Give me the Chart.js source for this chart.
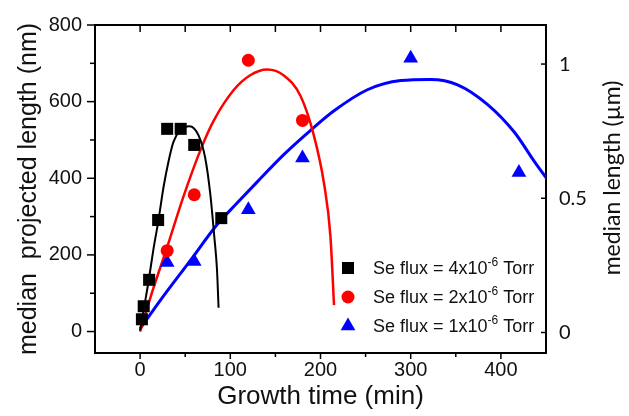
<!DOCTYPE html>
<html>
<head>
<meta charset="utf-8">
<script src="https://cdn.jsdelivr.net/npm/chart.js@4"></script>
<style>
  html, body { margin: 0; padding: 0; background: #fff; }
</style>
</head>
<body>
<canvas id="chart" width="629" height="416"></canvas>
<script>
    // measured points (min, nm)
    const time4 = [2, 4, 10, 20, 30, 45, 60, 90];
    const len4 = [32, 66, 135, 291, 529, 529, 487, 296];
    const time2 = [30, 60, 120, 180];
    const len2 = [211, 357, 708, 551];
    const time1 = [30, 60, 120, 180, 300, 420];
    const len1 = [180, 183, 318, 453, 713, 415];

    // fitted curves
    const fit4X = [0, 5.6, 9.3, 14.8, 20.4, 25.9, 31.5, 37, 44.4, 54.8, 64.8, 72.2, 77.8, 82.2, 85.2, 87];
    const fit4Y = [3, 79, 130, 215, 291, 376, 444, 495, 525, 536, 512, 453, 359, 249, 164, 62];
    const fit2X = [0, 15, 30, 47, 68, 81.5, 104, 122, 141, 159, 178, 192.6, 204, 211, 215];
    const fit2Y = [0, 115, 220, 345, 480, 550, 631, 669, 684, 669, 614, 512, 385, 249, 69];
    const fit1X = [0, 22, 55.6, 85, 107, 129.6, 159, 189, 215, 252, 289, 322, 352, 385, 415, 437, 452];
    const fit1Y = [7, 80, 185, 278, 334, 390, 461, 525, 576, 631, 655, 658, 644, 593, 520, 444, 395];

    const fluxValues = ["4x10", "2x10", "1x10"];
    const xTicks = [0, 100, 200, 300, 400];
    const xMinor = [50, 150, 250, 350];
    const xTopTicks = [0, 50, 100, 150, 200, 250, 300, 350, 400];
    const yTicks = [0, 200, 400, 600, 800];
    const yMinor = [100, 300, 500, 700];
    const y2Ticks = [0, 0.5, 1];
    const rightTitle = "median length (\u00b5m)";

    const pts = (xs, ys) => xs.map((x, i) => ({ x: x, y: ys[i] }));

    // ticks drawn by hand: some point inward, some outward, with minor ones
    const frameTicks = {
      id: "frameTicks",
      afterDraw(chart) {
        const { ctx, chartArea: a, scales } = chart;
        ctx.save();
        ctx.strokeStyle = "#000";
        ctx.lineWidth = 2;
        ctx.beginPath();
        ctx.moveTo(a.left - 1, a.top);
        ctx.lineTo(a.right + 1, a.top);
        ctx.stroke();
        ctx.lineWidth = 1.5;
        const tick = (x1, y1, x2, y2) => {
          ctx.beginPath();
          ctx.moveTo(x1, y1);
          ctx.lineTo(x2, y2);
          ctx.stroke();
        };
        xTicks.forEach((v) => {
          const x = scales.x.getPixelForValue(v);
          tick(x, a.bottom, x, a.bottom + 6);
        });
        xMinor.forEach((v) => {
          const x = scales.x.getPixelForValue(v);
          tick(x, a.bottom, x, a.bottom + 4);
        });
        xTopTicks.forEach((v) => {
          const x = scales.x.getPixelForValue(v);
          tick(x, a.top, x, a.top + 7);
        });
        yTicks.forEach((v) => {
          const y = scales.y.getPixelForValue(v);
          tick(a.left - 8, y, a.left, y);
        });
        yMinor.forEach((v) => {
          const y = scales.y.getPixelForValue(v);
          tick(a.left - 5, y, a.left, y);
        });
        y2Ticks.forEach((v) => {
          const y = scales.y2.getPixelForValue(v);
          tick(a.right - 5, y, a.right, y);
        });
        ctx.restore();
      },
    };

    // right title (reads bottom to top) and the legend inside the plot
    const sideText = {
      id: "sideText",
      afterDraw(chart) {
        const { ctx, chartArea: a } = chart;
        ctx.save();
        ctx.fillStyle = "#111";
        ctx.font = "23px Lato";
        ctx.textAlign = "center";
        ctx.textBaseline = "alphabetic";
        ctx.translate(a.right + 74, (a.top + a.bottom) / 2 - 11);
        ctx.rotate(-Math.PI / 2);
        ctx.fillText(rightTitle, 0, 0);
        ctx.restore();

        ctx.save();
        ctx.textBaseline = "alphabetic";
        ctx.textAlign = "left";
        fluxValues.forEach((f, i) => {
          const ds = chart.data.datasets[i];
          const cy = a.bottom - 85 + i * 29;
          ctx.fillStyle = ds.backgroundColor;
          Chart.helpers.drawPoint(ctx, { pointStyle: ds.pointStyle, radius: ds.pointRadius, rotation: 0, borderWidth: 0 }, 348, cy);
          ctx.fillStyle = "#111";
          ctx.font = '18px "Liberation Sans"';
          const base = "Se flux = " + f;
          let x = 373;
          ctx.fillText(base, x, cy + 6);
          x += ctx.measureText(base).width;
          ctx.font = '12px "Liberation Sans"';
          ctx.fillText("-6", x, cy - 2);
          x += ctx.measureText("-6").width;
          ctx.font = '18px "Liberation Sans"';
          ctx.fillText(" Torr", x, cy + 6);
        });
        ctx.restore();
      },
    };

    const tickFont = { family: "Liberation Sans", size: 20 };

    new Chart(document.getElementById("chart"), {
      type: "scatter",
      data: {
        datasets: [
          { label: "Se flux = 4x10-6 Torr", data: pts(time4, len4), pointStyle: "rect", pointRadius: 8.5, backgroundColor: "#000", borderWidth: 0, order: 0 },
          { label: "Se flux = 2x10-6 Torr", data: pts(time2, len2), pointStyle: "circle", pointRadius: 6.5, backgroundColor: "#ff0000", borderWidth: 0, order: 0 },
          { label: "Se flux = 1x10-6 Torr", data: pts(time1, len1), pointStyle: "triangle", pointRadius: 8.5, backgroundColor: "#0000ff", borderWidth: 0, order: 0 },
          { data: pts(fit4X, fit4Y), showLine: true, pointRadius: 0, borderColor: "#000", borderWidth: 2, cubicInterpolationMode: "monotone", order: 1 },
          { data: pts(fit2X, fit2Y), showLine: true, pointRadius: 0, borderColor: "#ff0000", borderWidth: 2.5, cubicInterpolationMode: "monotone", order: 1 },
          { data: pts(fit1X, fit1Y), showLine: true, pointRadius: 0, borderColor: "#0000ff", borderWidth: 3, cubicInterpolationMode: "monotone", order: 1 },
        ],
      },
      options: {
        responsive: false,
        animation: false,
        layout: { padding: { top: 17 } },
        plugins: { legend: { display: false }, tooltip: { enabled: false } },
        scales: {
          x: {
            type: "linear",
            min: -50,
            max: 450,
            afterBuildTicks: (s) => { s.ticks = xTicks.map((v) => ({ value: v })); },
            afterFit: (s) => { s.height = 63; },
            grid: { drawOnChartArea: false, drawTicks: false },
            border: { color: "#000", width: 2 },
            ticks: { font: tickFont, color: "#111", padding: 5, autoSkip: false, maxRotation: 0 },
            title: { display: true, text: "Growth time (min)", color: "#111", font: { family: "Liberation Sans", size: 26 }, padding: { top: 0, bottom: 4 } },
          },
          y: {
            type: "linear",
            position: "left",
            min: -56,
            max: 800,
            afterBuildTicks: (s) => { s.ticks = yTicks.map((v) => ({ value: v })); },
            afterFit: (s) => { s.width = 95; },
            grid: { drawOnChartArea: false, drawTicks: false },
            border: { color: "#000", width: 2 },
            ticks: { font: tickFont, color: "#111", padding: 13, autoSkip: false },
            title: { display: true, text: "median  projected length (nm)", color: "#111", font: { family: "Liberation Sans", size: 25 }, padding: { top: 14, bottom: 0 } },
          },
          y2: {
            type: "linear",
            position: "right",
            min: -0.0764,
            max: 1.1455,
            afterBuildTicks: (s) => { s.ticks = y2Ticks.map((v) => ({ value: v })); },
            afterFit: (s) => { s.width = 83; },
            grid: { drawOnChartArea: false, drawTicks: false },
            border: { color: "#000", width: 2 },
            ticks: { font: { family: "Lato", size: 20 }, color: "#111", padding: 13, autoSkip: false, callback: (v) => String(v) },
          },
        },
      },
      plugins: [frameTicks, sideText],
    });
</script>
</body>
</html>
